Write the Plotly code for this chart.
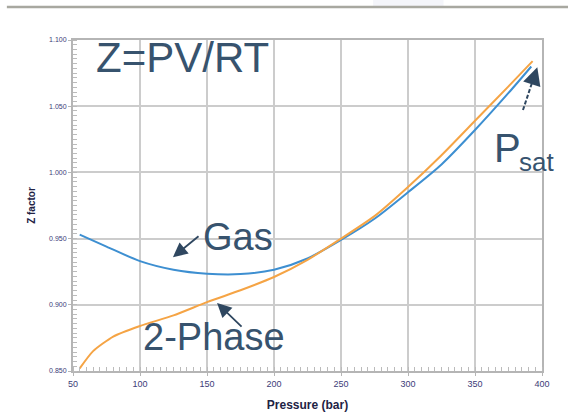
import plotly.graph_objects as go

# Data
gas_p = [55, 75, 100, 125, 150, 175, 200, 225, 250, 275, 300, 325, 350, 375, 392]
gas_z = [0.953, 0.944, 0.933, 0.9265, 0.9235, 0.9232, 0.9265, 0.935, 0.949, 0.965,
         0.985, 1.006, 1.032, 1.060, 1.080]

two_p = [55, 65, 80, 100, 125, 150, 175, 200, 225, 250, 275, 300, 325, 350, 375, 393]
two_z = [0.852, 0.865, 0.876, 0.884, 0.892, 0.902, 0.911, 0.921, 0.934, 0.950, 0.967,
         0.989, 1.013, 1.039, 1.065, 1.084]

x_ticks = [50, 100, 150, 200, 250, 300, 350, 400]
y_ticks = [0.85, 0.90, 0.95, 1.00, 1.05, 1.10]

TXT = "#37536e"
FONT = "Liberation Sans, Arial, sans-serif"

fig = go.Figure()
fig.add_trace(go.Scatter(x=gas_p, y=gas_z, mode="lines", name="Gas",
                         line=dict(color="#3d8fd1", width=2, shape="spline", smoothing=0.8)))
fig.add_trace(go.Scatter(x=two_p, y=two_z, mode="lines", name="2-Phase",
                         line=dict(color="#f5a445", width=2, shape="spline", smoothing=0.6)))

axis_common = dict(showline=True, linecolor="#b5b5b5", linewidth=2, mirror=True,
                   showgrid=True, gridcolor="#cccccc", gridwidth=1.5, zeroline=False,
                   ticks="outside", ticklen=3, tickcolor="#b5b5b5", automargin=False)

fig.update_xaxes(range=[50, 400], tickvals=x_ticks,
                 tickfont=dict(size=9, color="#3c3c78", family=FONT),
                 title=dict(text="<b>Pressure (bar)</b>", font=dict(size=12, color="#222244", family=FONT), standoff=13),
                 minor=dict(dtick=5, ticks="inside", ticklen=4, tickcolor="#bbbbbb", showgrid=False),
                 **axis_common)
fig.update_yaxes(range=[0.85, 1.10], tickvals=y_ticks, tickformat=".3f",
                 tickfont=dict(size=7, color="#3c3c78", family=FONT),
                 title=dict(text="<b>Z factor</b>", font=dict(size=10, color="#222244", family=FONT), standoff=12),
                 minor=dict(dtick=0.05/14, ticks="inside", ticklen=4, tickcolor="#bbbbbb", showgrid=False),
                 **axis_common)

ann = []
def text(x, y, s, size, anchor="left"):
    ann.append(dict(x=x, y=y, xref="x", yref="y", text=s, showarrow=False,
                    xanchor=anchor, yanchor="middle",
                    font=dict(size=size, color=TXT, family=FONT)))

def arrow(x0, y0, x1, y1, size=1.6, width=1.8):
    ann.append(dict(x=x1, y=y1, ax=x0, ay=y0, xref="x", yref="y", axref="x", ayref="y",
                    text="", showarrow=True, arrowhead=2, arrowsize=size, arrowwidth=width,
                    arrowcolor="#2f4760"))

text(66, 1.0865, "Z=PV/RT", 42)
text(145.5, 0.9515, "Gas", 38)
text(100.5, 0.8760, "2-Phase", 38)
text(362.5, 1.0185, "P", 40)
text(381.5, 1.0075, "sat", 26)

arrow(144.8, 0.9527, 124.6, 0.936)
arrow(176.9, 0.8825, 157.5, 0.9014)
# dashed Psat arrow: dashed shaft + head
arrow(393.0, 1.0685, 396.5, 1.0795, size=1.8, width=2)

fig.add_shape(type="line", xref="x", yref="y", x0=385.8, y0=1.0471, x1=393.8, y1=1.0715,
              line=dict(color="#2f4760", width=2, dash="4px,2px"))

# top decoration line
fig.add_shape(type="rect", xref="paper", yref="paper", x0=0.64, x1=0.79, y0=1.1, y1=1.125,
              line=dict(width=0), fillcolor="#f4f5fa", layer="below")
fig.add_shape(type="line", xref="paper", yref="paper", x0=-0.141, x1=1.06, y0=1.100, y1=1.100,
              line=dict(color="#a8a8a0", width=2.5))

fig.update_layout(width=568, height=416, margin=dict(l=73, r=26, t=40, b=45),
                  plot_bgcolor="white", paper_bgcolor="white", showlegend=False,
                  annotations=ann)

fig.write_html("out.html")
